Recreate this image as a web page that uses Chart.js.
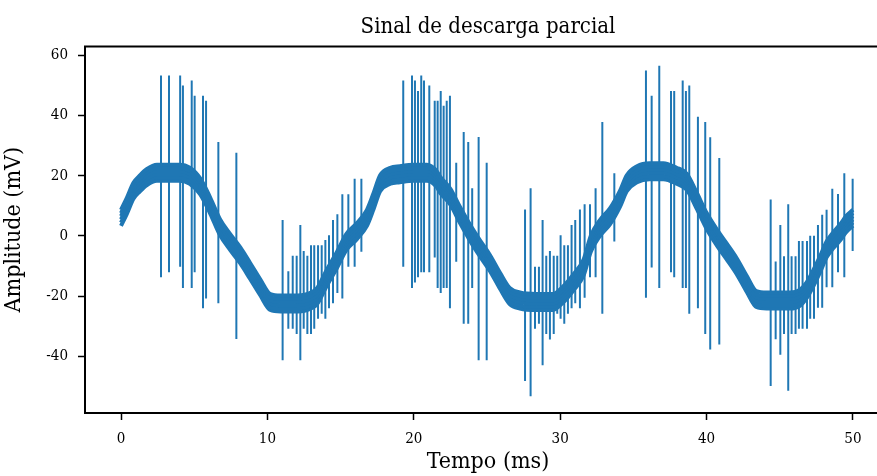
<!DOCTYPE html>
<html>
<head>
<meta charset="utf-8">
<script src="https://cdn.jsdelivr.net/npm/chart.js@4.4.1/dist/chart.umd.min.js"></script>
<style>
    html, body { margin: 0; padding: 0; background: #fff; overflow: hidden; }
    /* the original figure is cropped on the right, so the canvas is a bit wider than the window */
    #wrap { width: 877px; height: 476px; overflow: hidden; }
</style>
</head>
<body>
<div id="wrap"><canvas id="signalChart" width="893" height="476"></canvas></div>
<script>
// Slow 60 Hz component (centre of the thick band)
const baseTime = [0, 0.4, 0.85, 1.3, 1.75, 2.45, 3.1, 4.0, 4.7, 5.4, 6.1, 6.75, 7.45, 8.15, 8.8, 9.5,
    10.2, 10.9, 11.8, 12.7, 13.4, 14.05, 14.75, 15.4, 16.1, 16.8, 17.25, 17.7, 18.4, 19.05, 19.95,
    20.9, 21.55, 21.8, 22.5, 23.15, 23.85, 24.5, 25.2, 25.9, 26.55, 27.25, 28.4, 29.5, 30.2, 30.9,
    31.6, 32.1, 32.7, 33.4, 34.1, 34.55, 35.25, 36.1, 37.05, 37.95, 38.65, 39.3, 40.0, 40.7, 41.35,
    42.05, 42.75, 43.4, 44.1, 45.7, 46.4, 46.85, 47.3, 47.75, 48.2, 48.65, 49.1, 49.55, 50.0];
const baseAmp = [6, 10, 15, 17.5, 19.5, 21, 21, 21, 20, 16.5, 10, 3, -2, -6.5, -11.5, -17,
    -22, -22.5, -22.5, -22, -20, -14, -8, -2, 1.5, 6, 11.5, 17.5, 20, 20.5, 21,
    21, 19, 17, 13, 7, 1, -4, -9, -15, -20, -21.5, -22, -22, -19.5, -15.5,
    -10.5, -2.5, 2.5, 6.5, 12.5, 17.5, 20.5, 21.5, 21.5, 20, 18, 12, 5, -0.5, -5,
    -10, -16, -21, -21.5, -21.5, -20.5, -18, -14, -9.5, -4.5, -1.5, 1, 4, 6];

// Partial discharge pulses: time, peak and valley of each one
const spikeTime = [2.73, 3.28, 4.04, 4.23, 4.83, 5.03, 5.60, 5.81, 6.65, 7.88,
    11.04, 11.43, 11.73, 12.0, 12.25, 12.48, 12.73, 12.98, 13.2, 13.46, 13.71, 13.96, 14.21, 14.48,
    14.78, 15.12, 15.53, 15.96, 16.42,
    19.28, 19.88, 20.08, 20.29, 20.51, 20.70, 21.06, 21.43, 21.63, 21.84, 22.04, 22.25, 22.47,
    22.90, 23.41, 23.72, 23.99, 24.43, 24.98,
    27.6, 27.98, 28.28, 28.55, 28.80, 29.05, 29.30, 29.56, 29.80, 30.03, 30.28, 30.53, 30.78,
    31.03, 31.35, 31.67, 32.04, 32.42, 32.88, 33.70,
    35.86, 36.25, 36.77, 37.57, 37.79, 38.37, 38.59, 38.82, 39.41, 39.91, 40.25, 40.87,
    44.38, 44.72, 45.04, 45.29, 45.58, 45.81, 46.08, 46.31, 46.56, 46.86, 47.08, 47.34, 47.61,
    47.90, 48.20, 48.59, 48.98, 49.41, 49.98];
const spikeTop = [53.3, 53.3, 53.3, 50, 51.7, 46.6, 46.6, 44.9, 31.2, 27.6,
    5.3, -11.8, -6.6, -6.6, 3.6, -5.0, -6.6, -3.1, -3.1, -3.1, -3.1, -1.4, 0.2, 5.3,
    7.2, 13.8, 13.8, 19.0, 19.0,
    51.7, 53.3, 51.7, 48.2, 53.3, 51.7, 50.0, 44.9, 44.9, 48.2, 43.3, 44.9, 46.6,
    24.3, 34.5, 31.2, 15.8, 32.9, 24.3,
    8.8, 15.8, -10.3, -10.3, 5.3, -6.6, -5.0, -6.6, -6.6, 0.2, -3.1, -3.1, 3.6,
    5.3, 8.8, 10.5, 10.5, 15.8, 37.9, 20.8,
    55.0, 46.6, 56.6, 48.2, 48.2, 51.7, 48.2, 50.0, 39.6, 37.9, 32.8, 25.9,
    12.1, -8.5, 3.6, -6.8, 10.5, -6.8, -6.8, -1.7, -1.7, -1.7, 0, 0, 3.6,
    7.0, 8.7, 15.7, 13.9, 20.8, 19.0];
const spikeBottom = [-13.8, -12.1, -10.3, -17.3, -17.3, -12.1, -24.1, -20.8, -22.4, -34.3,
    -41.4, -30.9, -30.9, -32.6, -41.4, -30.9, -32.6, -32.6, -30.9, -27.6, -25.9, -27.6, -24.1, -22.4,
    -19.0, -20.8, -10.3, -10.3, -5.3,
    -10.3, -17.3, -15.5, -13.8, -12.1, -12.1, -12.1, -7.2, -17.3, -19.0, -17.3, -17.3, -24.1,
    -8.6, -29.2, -29.2, -17.3, -41.4, -41.4,
    -48.3, -53.3, -30.9, -29.2, -43.0, -32.6, -34.5, -32.6, -25.9, -27.6, -29.2, -25.9, -24.1,
    -22.4, -24.1, -20.6, -13.8, -13.8, -25.9, -1.9,
    -20.6, -10.5, -17.3, -12.1, -13.8, -17.3, -17.3, -25.9, -24.1, -32.6, -37.8, -36.1,
    -49.9, -34.4, -39.5, -32.6, -51.5, -32.6, -32.6, -30.9, -30.9, -30.9, -27.6, -27.6, -23.9,
    -23.9, -17.1, -17.1, -12.1, -13.8, -5.0];

const xTicks = [0, 10, 20, 30, 40, 50];
const yTicks = [-40, -20, 0, 20, 40, 60];

const lineColor = '#1f77b4';
const fontFamily = "'DejaVu Serif Condensed', 'DejaVu Serif', serif";

// Build the datasets
const basePoints = baseTime.map((t, i) => ({ x: t, y: baseAmp[i] }));
const spikePoints = [];
spikeTime.forEach((t, i) => {
    spikePoints.push({ x: t, y: spikeBottom[i] });
    spikePoints.push({ x: t, y: spikeTop[i] });
    spikePoints.push({ x: t, y: null });
});

// The fast ripple makes the slow wave a band of roughly constant vertical height:
// stroke the same curve several times, shifted by a few pixels up and down
const bandShifts = [-8, -4.8, -1.6, 1.6, 4.8, 8];
const bandSets = bandShifts.map(s => ({
    data: basePoints,
    yShift: s,
    borderColor: lineColor,
    borderWidth: 4,
    borderJoinStyle: 'round',
    cubicInterpolationMode: 'monotone',
    pointRadius: 0,
    fill: false
}));

const shiftPlugin = {
    id: 'shift',
    beforeDatasetDraw(chart, args) {
        const s = chart.data.datasets[args.index].yShift || 0;
        chart.ctx.save();
        chart.ctx.translate(0, s);
    },
    afterDatasetDraw(chart) {
        chart.ctx.restore();
    }
};

// Frame on top, left and bottom (the right spine lies past the picture's edge)
const framePlugin = {
    id: 'frame',
    afterDraw(chart) {
        const { ctx, chartArea: a } = chart;
        ctx.save();
        ctx.strokeStyle = '#000';
        ctx.lineWidth = 2;
        ctx.beginPath();
        ctx.moveTo(a.right, a.top);
        ctx.lineTo(a.left, a.top);
        ctx.lineTo(a.left, a.bottom);
        ctx.lineTo(a.right, a.bottom);
        ctx.stroke();
        ctx.restore();
    }
};

const ctx = document.getElementById('signalChart').getContext('2d');
new Chart(ctx, {
    type: 'line',
    data: {
        datasets: [
            ...bandSets,
            {
                data: spikePoints,
                borderColor: lineColor,
                borderWidth: 2,
                pointRadius: 0,
                spanGaps: false,
                fill: false
            }
        ]
    },
    options: {
        responsive: false,
        animation: false,
        layout: { padding: { left: 0, right: 2, top: 0, bottom: 0 } },
        scales: {
            x: {
                type: 'linear',
                min: -2.46,
                max: 52.6,
                afterBuildTicks: (scale) => { scale.ticks = xTicks.map(v => ({ value: v })); },
                afterFit: (scale) => { scale.height = 63; },
                border: { display: false },
                grid: { drawOnChartArea: false, drawTicks: true, tickLength: 7, tickColor: '#000', tickWidth: 1.5 },
                ticks: { color: '#000', padding: 10, font: { family: fontFamily, size: 15 } },
                title: {
                    display: true,
                    text: 'Tempo (ms)',
                    color: '#000',
                    font: { family: fontFamily, size: 23 },
                    padding: { top: 0, bottom: 0 }
                }
            },
            y: {
                type: 'linear',
                min: -58.9,
                max: 63.0,
                afterBuildTicks: (scale) => { scale.ticks = yTicks.map(v => ({ value: v })); },
                afterFit: (scale) => { scale.width = 85; },
                border: { display: false },
                grid: { drawOnChartArea: false, drawTicks: true, tickLength: 7, tickColor: '#000', tickWidth: 1.5 },
                ticks: {
                    color: '#000',
                    padding: 10,
                    font: { family: fontFamily, size: 15 },
                    callback: (v) => String(v)
                },
                title: {
                    display: true,
                    text: 'Amplitude (mV)',
                    color: '#000',
                    font: { family: fontFamily, size: 23 },
                    padding: { top: 0, bottom: 0 }
                }
            }
        },
        plugins: {
            legend: { display: false },
            tooltip: { enabled: false },
            title: {
                display: true,
                fullSize: false,
                text: 'Sinal de descarga parcial',
                color: '#000',
                font: { family: fontFamily, size: 22, weight: 'normal' },
                padding: { top: 14, bottom: 6 }
            }
        }
    },
    plugins: [shiftPlugin, framePlugin]
});
</script>
</body>
</html>
